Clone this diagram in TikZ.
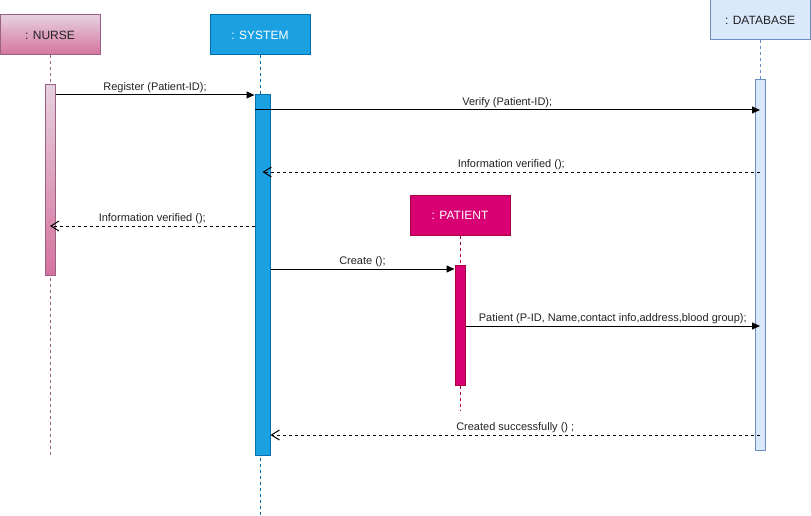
\documentclass[tikz,border=0pt]{standalone}
\usepackage{fontspec}
\setmainfont{Liberation Sans}
\usetikzlibrary{arrows.meta}

\definecolor{nursetop}{HTML}{E6D0DE}
\definecolor{nursebot}{HTML}{D5739D}
\definecolor{nurseline}{HTML}{996185}
\definecolor{sysfill}{HTML}{1BA1E2}
\definecolor{sysline}{HTML}{006EAF}
\definecolor{dbfill}{HTML}{DAE8FC}
\definecolor{dbline}{HTML}{6C8EBF}
\definecolor{patfill}{HTML}{D80073}
\definecolor{patline}{HTML}{A50040}
\definecolor{txt}{HTML}{222222}

\begin{document}
\begin{tikzpicture}[x=1pt, y=-1pt,
    head/.style={rectangle, draw, line width=1pt, minimum width=100pt, minimum height=40pt, font=\fontsize{12}{14}\selectfont},
    act/.style={rectangle, draw, line width=1pt, minimum width=10pt, inner sep=0pt},
    life/.style={line width=1pt, dash pattern=on 3pt off 3pt},
    call/.style={line width=1pt, -{Triangle[length=8pt,width=7pt]}},
    reply/.style={line width=1pt, dash pattern=on 3pt off 3pt, -{Straight Barb[length=8pt,width=10pt]}},
    lbl/.style={midway, above, inner sep=2pt, font=\fontsize{11}{13}\selectfont, text=txt}]
    \useasboundingbox (0,0) rectangle (811,516);

    % Lifeline heads
    \node[head, draw=nurseline, top color=nursetop, bottom color=nursebot, text=txt] (nurse) at (50,35) {: NURSE};
    \node[head, draw=sysline, fill=sysfill, text=white] (system) at (260,35) {: SYSTEM};
    \node[head, draw=dbline, fill=dbfill, text=txt] (database) at (760,20) {: DATABASE};
    \node[head, draw=patline, fill=patfill, text=white] (patient) at (460,215) {: PATIENT};

    % Lifelines
    \coordinate (nurseend) at (50,455);
    \coordinate (systemend) at (260,515);
    \coordinate (databaseend) at (760,450);
    \coordinate (patientend) at (460,410);
    \draw[life, nurseline] (nurse) -- (nurseend);
    \draw[life, sysline] (system) -- (systemend);
    \draw[life, dbline] (database) -- (databaseend);
    \draw[life, patline] (patient) -- (patientend);

    % Activations
    \node[act, draw=nurseline, top color=nursetop, bottom color=nursebot, minimum height=190pt] (nact) at (50,180) {};
    \node[act, draw=sysline, fill=sysfill, minimum width=15pt, minimum height=360pt] (sact) at (262.5,275) {};
    \node[act, draw=dbline, fill=dbfill, minimum height=370pt] (dact) at (760,265) {};
    \node[act, draw=patline, fill=patfill, minimum height=120pt] (pact) at (460,325) {};

    % Messages
    \draw[call] (nact.east |- 0,95) -- (sact.west |- 0,95) node[lbl] (mreg) {Register (Patient-ID);};
    \draw[call] (sact.west |- 0,110) -- (dact |- 0,110) node[lbl] (mverify) {Verify (Patient-ID);};
    \draw[reply] (dact |- 0,172) -- (sact |- 0,172) node[lbl] (mok1) {Information verified ();};
    \draw[reply] (sact.west |- 0,226) -- (nact |- 0,226) node[lbl] (mok2) {Information verified ();};
    \draw[call] (sact.east |- 0,269) -- (pact.west |- 0,269) node[lbl] (mcreate) {Create ();};
    \draw[call] (pact.east |- 0,326) -- (dact |- 0,326) node[lbl] (msave) {Patient (P-ID, Name,contact info,address,blood group);};
    \draw[reply] (dact |- 0,435) -- (sact.east |- 0,435) node[lbl] (mdone) {Created successfully () ;};
\end{tikzpicture}
\end{document}
